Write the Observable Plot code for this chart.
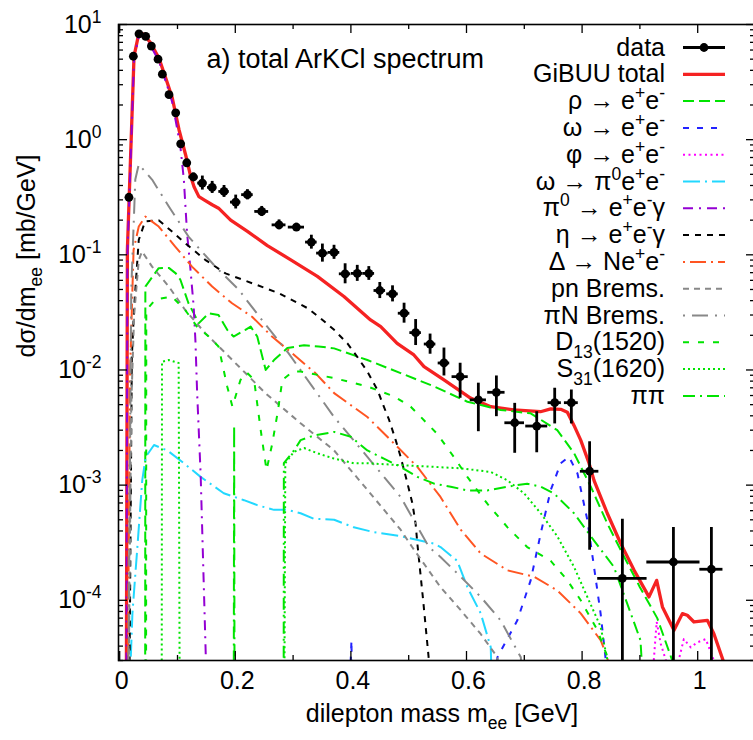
<!DOCTYPE html>
<html>
<head>
<meta charset="utf-8">
<script src="https://cdn.jsdelivr.net/npm/d3@7"></script>
<script src="https://cdn.jsdelivr.net/npm/@observablehq/plot@0.6"></script>
<style>
  html, body { margin: 0; padding: 0; background: #fff; overflow: hidden; }
  #chart svg { display: block; }
</style>
</head>
<body>
<div id="chart"></div>
<script>
// ---------------- data ----------------
const dataMass = [0.016,0.0236,0.0334,0.045,0.0548,0.0663,0.0738,0.0853,0.0969,0.1055,0.116,0.1275,0.143,0.160,0.1805,0.2007,0.221,0.2457,0.2757,0.3057,0.3316,0.3507,0.3708,0.390,0.411,0.431,0.450,0.472,0.492,0.512,0.537,0.561,0.589,0.6205,0.6517,0.6834,0.7215,0.7526,0.7814,0.813,0.8697,0.958,1.0237];
const dataValue = [0.316,5.3,8.3,7.9,6.5,5.0,3.7,2.46,1.71,0.92,0.63,0.474,0.42,0.385,0.355,0.287,0.333,0.238,0.182,0.174,0.129,0.1035,0.105,0.0684,0.069,0.069,0.049,0.0458,0.0311,0.0211,0.0168,0.0115,0.00875,0.0055,0.0064,0.00348,0.00326,0.0052,0.0052,0.00132,0.000155,0.000215,0.000186];
const dataLow = [0.30,5.1,8.0,7.6,6.3,4.8,3.55,2.36,1.64,0.88,0.60,0.438,0.365,0.341,0.315,0.25,0.30,0.215,0.165,0.161,0.112,0.0864,0.0913,0.056,0.0588,0.060,0.0417,0.039,0.0255,0.0163,0.0137,0.00887,0.00568,0.00291,0.00393,0.00189,0.00191,0.0034,0.0034,0.000272,1e-6,1e-6,1e-6];
const dataHigh = [0.33,5.5,8.6,8.2,6.7,5.2,3.85,2.56,1.78,0.96,0.66,0.513,0.483,0.434,0.40,0.33,0.368,0.263,0.201,0.188,0.148,0.124,0.121,0.0836,0.081,0.079,0.0575,0.0538,0.038,0.0274,0.0205,0.0155,0.01144,0.00768,0.00887,0.00513,0.00434,0.00694,0.0067,0.00238,0.000506,0.000428,0.000428];
const dataMassErr = [0.004,0.004,0.004,0.004,0.004,0.004,0.004,0.004,0.004,0.004,0.005,0.008,0.008,0.008,0.009,0.009,0.01,0.012,0.012,0.014,0.01,0.01,0.01,0.01,0.01,0.01,0.01,0.01,0.01,0.01,0.01,0.01,0.014,0.014,0.015,0.017,0.019,0.0115,0.012,0.016,0.0427,0.046,0.02];

const totalCurve = [[0.011,1e-6],[0.0133,0.11],[0.0248,5.3],[0.0334,8.5],[0.042,8.2],[0.0536,6.9],[0.068,5.1],[0.0825,3.1],[0.091,2.3],[0.1026,1.22],[0.114,0.74],[0.1228,0.48],[0.1286,0.39],[0.137,0.32],[0.146,0.30],[0.160,0.272],[0.171,0.254],[0.192,0.20],[0.221,0.16],[0.2555,0.12],[0.296,0.0905],[0.342,0.065],[0.388,0.0434],[0.434,0.0272],[0.4516,0.0238],[0.480,0.017],[0.509,0.0135],[0.5265,0.0107],[0.561,0.0082],[0.607,0.0057],[0.642,0.0048],[0.682,0.0045],[0.728,0.00434],[0.7457,0.0046],[0.763,0.00455],[0.7745,0.0043],[0.786,0.0033],[0.7976,0.00246],[0.812,0.00155],[0.8206,0.0011],[0.8437,0.000567],[0.8668,0.000311],[0.89,0.000182],[0.9157,0.000107],[0.929,0.000149],[0.939,0.0000875],[0.959,0.0000549],[0.9735,0.0000766],[0.982,0.0000741],[0.9936,0.0000648],[1.0167,0.000067],[1.028,0.0000513],[1.044,0.00003],[1.06,1e-6]];
const rhoCurve = [[0.044,1e-6],[0.0444,0.053],[0.0675,0.0766],[0.085,0.077],[0.097,0.069],[0.105,0.0607],[0.119,0.038],[0.137,0.0255],[0.154,0.031],[0.171,0.030],[0.186,0.0223],[0.197,0.0195],[0.2175,0.0223],[0.2266,0.0238],[0.238,0.0195],[0.2526,0.010],[0.267,0.0122],[0.29,0.0155],[0.319,0.0164],[0.344,0.016],[0.371,0.0154],[0.4285,0.0122],[0.486,0.0094],[0.544,0.0072],[0.6015,0.0053],[0.659,0.0045],[0.711,0.0042],[0.7284,0.0037],[0.757,0.0030],[0.786,0.0019],[0.815,0.00097],[0.844,0.00046],[0.8725,0.00024],[0.90,0.00013],[0.93,0.00007],[0.956,0.00003],[0.97,1e-6]];
const omegaCurve = [[0.396,1e-6],[0.399,2.5e-5],[0.401,4.5e-5],[0.404,1e-6],[0.64,1e-6],[0.6535,3.2e-5],[0.688,6.7e-5],[0.711,0.000149],[0.7284,0.00038],[0.7457,0.000905],[0.763,0.00155],[0.7774,0.00176],[0.792,0.00126],[0.809,0.0005],[0.8206,0.000195],[0.832,0.000077],[0.841,0.00003],[0.85,1e-6]];
const phiCurve = [[0.921,1e-6],[0.924,3e-5],[0.929,6.5e-5],[0.936,4.2e-5],[0.945,3e-5],[0.95,1e-6],[0.962,1e-6],[0.967,3e-5],[0.976,4.6e-5],[0.988,3.9e-5],[0.999,4.3e-5],[1.014,4.6e-5],[1.028,3e-5],[1.033,1e-6]];
const omegaDalitzCurve = [[0.018,1e-6],[0.019,3e-5],[0.022,7.7e-5],[0.0306,2.9e-4],[0.039,0.0011],[0.045,0.00176],[0.0594,0.00223],[0.0825,0.002],[0.111,0.00155],[0.14,0.00118],[0.18,0.00085],[0.215,0.00074],[0.238,0.00067],[0.267,0.00061],[0.29,0.00061],[0.313,0.00057],[0.336,0.00051],[0.371,0.0005],[0.405,0.00043],[0.44,0.00039],[0.486,0.00036],[0.544,0.00031],[0.555,0.00029],[0.584,0.00022],[0.6015,0.00013],[0.6246,0.000077],[0.642,0.000039],[0.65,1e-6]];
const pi0Curve = [[0.011,1e-6],[0.0133,0.1],[0.0248,5.0],[0.0334,8.0],[0.042,7.8],[0.0536,6.5],[0.068,4.8],[0.0825,2.9],[0.091,2.1],[0.1,1.2],[0.105,0.87],[0.111,0.45],[0.1165,0.155],[0.122,0.079],[0.128,0.0355],[0.131,0.018],[0.134,0.0063],[0.14,0.00126],[0.149,0.000032],[0.151,1e-6]];
const etaCurve = [[0.015,1e-6],[0.021,0.013],[0.025,0.035],[0.033,0.135],[0.044,0.195],[0.0675,0.20],[0.09,0.16],[0.1136,0.126],[0.148,0.0905],[0.183,0.069],[0.229,0.0567],[0.275,0.0465],[0.325,0.0344],[0.348,0.028],[0.371,0.0223],[0.394,0.017],[0.411,0.013],[0.4285,0.0097],[0.446,0.0067],[0.457,0.0048],[0.466,0.0037],[0.4775,0.00246],[0.486,0.00176],[0.492,0.00135],[0.498,0.00103],[0.5065,0.00069],[0.512,0.00046],[0.515,0.00031],[0.525,0.0001],[0.535,0.00003],[0.54,1e-6]];
const deltaCurve = [[0.012,1e-6],[0.018,0.01],[0.024,0.11],[0.033,0.176],[0.0444,0.215],[0.0675,0.176],[0.096,0.118],[0.125,0.079],[0.16,0.053],[0.1944,0.038],[0.229,0.029],[0.2635,0.0195],[0.298,0.014],[0.3386,0.0094],[0.371,0.0063],[0.4285,0.0039],[0.4746,0.0023],[0.515,0.00144],[0.555,0.00079],[0.59,0.00041],[0.6246,0.000255],[0.671,0.000182],[0.717,0.00016],[0.757,0.000122],[0.7976,0.000077],[0.832,0.000045],[0.844,0.000032],[0.86,1e-6]];
const pnCurve = [[0.013,1e-6],[0.02,0.005],[0.025,0.03],[0.033,0.09],[0.0386,0.107],[0.056,0.079],[0.085,0.053],[0.1136,0.033],[0.148,0.0209],[0.183,0.014],[0.2175,0.0094],[0.252,0.0063],[0.313,0.00344],[0.371,0.002],[0.4285,0.00091],[0.486,0.00041],[0.506,0.00029],[0.555,0.00013],[0.59,0.000082],[0.6246,0.000051],[0.6535,0.000032],[0.67,1e-6]];
const piNCurve = [[0.013,1e-6],[0.02,0.05],[0.027,0.45],[0.033,0.61],[0.056,0.45],[0.085,0.263],[0.119,0.144],[0.1655,0.079],[0.206,0.0497],[0.246,0.0272],[0.292,0.014],[0.333,0.0072],[0.371,0.0039],[0.4285,0.00176],[0.486,0.00079],[0.535,0.00029],[0.555,0.000238],[0.59,0.00016],[0.6246,0.000107],[0.659,0.000067],[0.694,0.000032],[0.71,1e-6]];
const d13Curve = [[0.0455,1e-6],[0.046,0.033],[0.062,0.041],[0.0905,0.0434],[0.1136,0.033],[0.1337,0.0238],[0.154,0.0195],[0.171,0.016],[0.186,0.0072],[0.195,0.0048],[0.209,0.0082],[0.22,0.0095],[0.2325,0.0082],[0.244,0.003],[0.254,0.00135],[0.264,0.0023],[0.273,0.0042],[0.2815,0.0082],[0.30,0.0097],[0.313,0.0097],[0.371,0.0085],[0.4285,0.0072],[0.4746,0.0059],[0.5035,0.0048],[0.549,0.0028],[0.578,0.00176],[0.6015,0.00118],[0.636,0.00069],[0.671,0.00043],[0.705,0.00029],[0.7457,0.00022],[0.7746,0.000149],[0.7976,0.0001],[0.8265,0.000055],[0.844,0.000032],[0.855,1e-6]];
const s31Curve = [[0.0725,1e-6],[0.0732,0.0118],[0.085,0.0122],[0.102,0.0115],[0.1045,1e-6],[0.284,1e-6],[0.2865,0.00155],[0.3016,0.00195],[0.319,0.0021],[0.342,0.00189],[0.371,0.0017],[0.405,0.00155],[0.4285,0.00155],[0.486,0.00149],[0.544,0.00144],[0.59,0.0014],[0.642,0.0013],[0.671,0.0011],[0.6995,0.00085],[0.7284,0.00057],[0.757,0.00036],[0.786,0.000195],[0.809,0.000107],[0.832,0.000059],[0.844,0.00003],[0.85,1e-6]];
const pipiCurve = [[0.197,1e-6],[0.198,0.0033],[0.199,1e-6],[0.2835,1e-6],[0.284,0.00155],[0.3016,0.002],[0.313,0.00246],[0.336,0.0027],[0.371,0.0029],[0.40,0.00263],[0.4285,0.002],[0.457,0.0017],[0.486,0.00144],[0.515,0.00118],[0.544,0.00103],[0.5727,0.00097],[0.6015,0.0009],[0.636,0.0009],[0.671,0.00097],[0.705,0.00103],[0.7284,0.00097],[0.751,0.00085],[0.786,0.00057],[0.8206,0.00033],[0.855,0.000195],[0.901,0.000045],[0.92,1e-6]];

const legendLabels = ["data","GiBUU total","ρ → e^{+}e^{-}","ω → e^{+}e^{-}","φ → e^{+}e^{-}","ω → π^{0}e^{+}e^{-}","π^{0} → e^{+}e^{-}γ","η → e^{+}e^{-}γ","Δ → Ne^{+}e^{-}","pn Brems.","πN Brems.","D_{13}(1520)","S_{31}(1620)","ππ"];

const xMajorTicks = [0, 0.2, 0.4, 0.6, 0.8, 1.0];
const xTickLabels = ["0", "0.2", "0.4", "0.6", "0.8", "1"];
const xMinorTicks = [0.1, 0.3, 0.5, 0.7, 0.9];
const yMajorTicks = [1e-4, 1e-3, 1e-2, 1e-1, 1, 10];
const yTickLabels = ["10^{-4}", "10^{-3}", "10^{-2}", "10^{-1}", "10^{0}", "10^{1}"];
const yMinorTicks = [];
for (const dec of [1e-5, 1e-4, 1e-3, 1e-2, 1e-1, 1]) for (let k = 2; k <= 9; k++) { const v = k * dec; if (v >= 3e-5 && v <= 10) yMinorTicks.push(v); }

const titleText = "a) total ArKCl spectrum";
const xTitle = "dilepton mass m_{ee} [GeV]";
const yTitle = "dσ/dm_{ee} [mb/GeV]";

// ---------------- styles ----------------
const GREEN = "#00e400";
const series = [
  {curve: totalCurve,       color: "#f52222", width: 3.3, dash: null},
  {curve: rhoCurve,         color: GREEN,     width: 2,   dash: "11,5"},
  {curve: omegaCurve,       color: "#2222ff", width: 2,   dash: "6,8"},
  {curve: phiCurve,         color: "#ff00ff", width: 2,   dash: "2,3.5"},
  {curve: omegaDalitzCurve, color: "#22d8ff", width: 2,   dash: "17,5,2,5"},
  {curve: pi0Curve,         color: "#9400d3", width: 2,   dash: "10,6,2,6"},
  {curve: etaCurve,         color: "#000000", width: 2,   dash: "6,6"},
  {curve: deltaCurve,       color: "#ff5522", width: 2,   dash: "2,5,16,5"},
  {curve: pnCurve,          color: "#888888", width: 2,   dash: "6,5"},
  {curve: piNCurve,         color: "#888888", width: 2,   dash: "2,7,16,7"},
  {curve: d13Curve,         color: GREEN,     width: 2,   dash: "6,9"},
  {curve: s31Curve,         color: GREEN,     width: 2,   dash: "2,3"},
  {curve: pipiCurve,        color: GREEN,     width: 2,   dash: "12,5,2,5"}
];

// ---------------- layout ----------------
const W = 753, H = 740, ML = 118, MR = -2, MT = 24, MB = 80;
const plotW = W - ML - MR, plotH = H - MT - MB;
const FS = 25;
const FONT = "'Liberation Sans', Arial, Helvetica, sans-serif";

const points = dataMass.map((m, i) => ({m, v: dataValue[i], lo: dataLow[i], hi: dataHigh[i], dm: dataMassErr[i]}));

const marks = [];
for (const s of series) {
  marks.push(Plot.line(s.curve, {x: d => d[0], y: d => d[1], stroke: s.color, strokeWidth: s.width,
    strokeDasharray: s.dash || undefined, strokeLinecap: "butt", strokeLinejoin: "round", clip: true}));
}
marks.push(Plot.ruleY(points, {y: "v", x1: d => d.m - d.dm, x2: d => d.m + d.dm, stroke: "black", strokeWidth: 2.8, clip: true}));
marks.push(Plot.ruleX(points, {x: "m", y1: "lo", y2: "hi", stroke: "black", strokeWidth: 2.8, clip: true}));
marks.push(Plot.dot(points, {x: "m", y: "v", r: 4.4, fill: "black", stroke: "none", clip: true}));
marks.push(Plot.frame({stroke: "black", strokeWidth: 1.6}));
marks.push(Plot.tickX(xMajorTicks, {x: d => d, insetTop: plotH - 9, stroke: "black", strokeWidth: 1.3}));
marks.push(Plot.tickX(xMajorTicks, {x: d => d, insetBottom: plotH - 9, stroke: "black", strokeWidth: 1.3}));
marks.push(Plot.tickX(xMinorTicks, {x: d => d, insetTop: plotH - 5, stroke: "black", strokeWidth: 1.3}));
marks.push(Plot.tickX(xMinorTicks, {x: d => d, insetBottom: plotH - 5, stroke: "black", strokeWidth: 1.3}));
marks.push(Plot.tickY(yMajorTicks, {y: d => d, insetRight: plotW - 9, stroke: "black", strokeWidth: 1.3}));
marks.push(Plot.tickY(yMajorTicks, {y: d => d, insetLeft: plotW - 9, stroke: "black", strokeWidth: 1.3}));
marks.push(Plot.tickY(yMinorTicks, {y: d => d, insetRight: plotW - 5, stroke: "black", strokeWidth: 1.3}));
marks.push(Plot.tickY(yMinorTicks, {y: d => d, insetLeft: plotW - 5, stroke: "black", strokeWidth: 1.3}));
marks.push(Plot.text(xMajorTicks, {x: d => d, text: (d, i) => xTickLabels[i], frameAnchor: "bottom", dy: 28, dx: 2, fontSize: FS, fill: "black"}));
marks.push(Plot.text(yMajorTicks, {y: d => d, text: (d, i) => yTickLabels[i], frameAnchor: "left", dx: -17, textAnchor: "end", fontSize: FS, fill: "black"}));
marks.push(Plot.text([xTitle], {text: d => d, frameAnchor: "bottom", dy: 61, dx: 5, fontSize: 26, fill: "black"}));
marks.push(Plot.text([yTitle], {text: d => d, frameAnchor: "left", dx: -92, dy: 15, rotate: -90, fontSize: FS, fill: "black"}));
marks.push(Plot.text([titleText], {text: d => d, frameAnchor: "top-left", dx: 88, dy: 24, textAnchor: "start", fontSize: 27, fill: "black"}));

const svgNode = Plot.plot({
  width: W, height: H,
  marginLeft: ML, marginRight: MR, marginTop: MT, marginBottom: MB,
  style: {fontFamily: FONT, fontSize: FS + "px", background: "white", overflow: "visible", color: "black"},
  x: {domain: [-0.00207, 1.1], axis: null},
  y: {type: "log", domain: [3e-5, 10], axis: null},
  marks
});
document.getElementById("chart").appendChild(svgNode);

// ---------------- rich text (super/subscripts) ----------------
function rich(el, str, F) {
  const t = d3.select(el);
  t.text(null);
  const re = /([\^_])\{([^}]*)\}/g;
  const parts = [];
  let last = 0, m;
  while ((m = re.exec(str))) {
    if (m.index > last) parts.push({s: str.slice(last, m.index), k: 0});
    parts.push({s: m[2], k: m[1] === "^" ? 1 : -1});
    last = re.lastIndex;
  }
  if (last < str.length) parts.push({s: str.slice(last), k: 0});
  let cur = 0;
  for (const p of parts) {
    const target = p.k === 1 ? -0.4 * F : p.k === -1 ? 0.3 * F : 0;
    t.append("tspan").attr("dy", (target - cur) + "px").attr("font-size", (p.k ? 0.7 * F : F) + "px").text(p.s);
    cur = target;
  }
}
const svg = d3.select(svgNode);
svg.selectAll("text").each(function () {
  const s = this.textContent;
  const f = parseFloat(this.getAttribute("font-size")) || FS;
  if (s.includes("^{") || s.includes("_{")) rich(this, s, f);
});

// ---------------- legend ----------------
const legendTextRight = 665, sampleX1 = 683, sampleX2 = 725, legendTop = 47.5, legendStep = 26.8;
const lg = svg.append("g").attr("font-family", FONT).attr("font-size", FS);
legendLabels.forEach((label, i) => {
  const y = legendTop + i * legendStep;
  const t = lg.append("text").attr("x", legendTextRight).attr("y", y + 8).attr("text-anchor", "end").attr("fill", "black");
  rich(t.node(), label, FS);
  if (i === 0) {
    lg.append("line").attr("x1", sampleX1).attr("x2", sampleX2).attr("y1", y).attr("y2", y).attr("stroke", "black").attr("stroke-width", 2.8);
    lg.append("circle").attr("cx", (sampleX1 + sampleX2) / 2).attr("cy", y).attr("r", 4.4).attr("fill", "black");
  } else {
    const s = series[i - 1];
    const ln = lg.append("line").attr("x1", sampleX1).attr("x2", sampleX2).attr("y1", y).attr("y2", y)
      .attr("stroke", s.color).attr("stroke-width", s.width).attr("stroke-linecap", "butt");
    if (s.dash) ln.attr("stroke-dasharray", s.dash);
  }
});
</script>
</body>
</html>
